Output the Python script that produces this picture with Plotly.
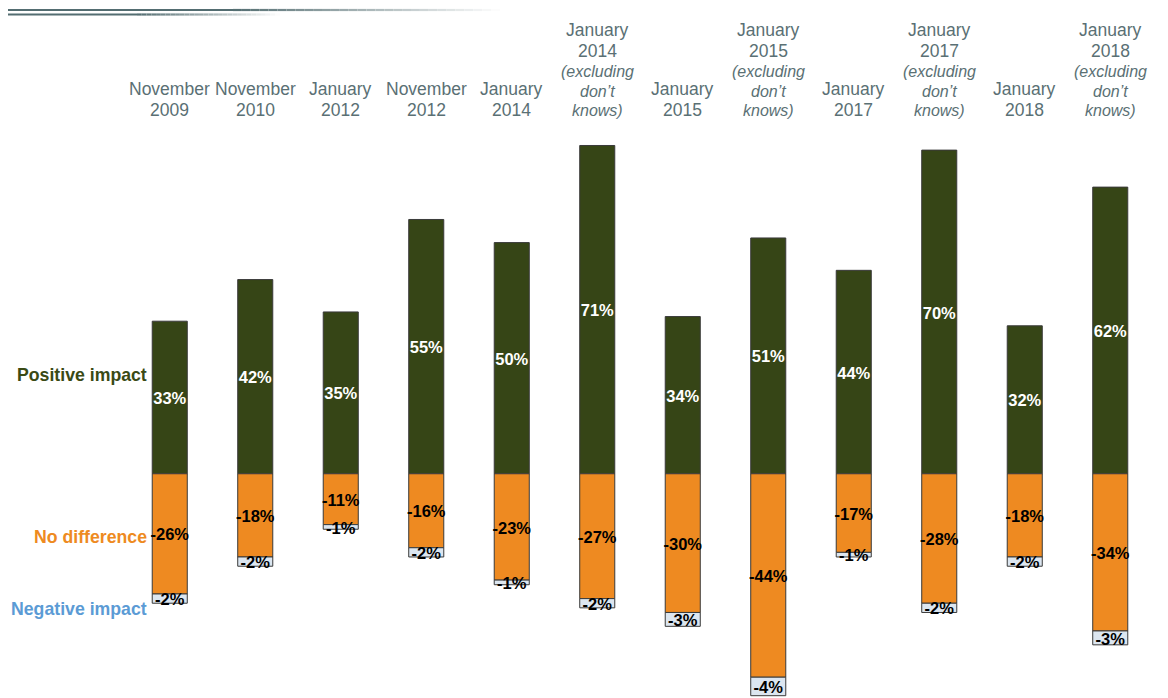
import plotly.graph_objects as go

# ---- data ----
periods = [
    ("November", "2009", False), ("November", "2010", False), ("January", "2012", False),
    ("November", "2012", False), ("January", "2014", False), ("January", "2014", True),
    ("January", "2015", False), ("January", "2015", True), ("January", "2017", False),
    ("January", "2017", True), ("January", "2018", False), ("January", "2018", True),
]
positive = [33, 42, 35, 55, 50, 71, 34, 51, 44, 70, 32, 62]
no_difference = [-26, -18, -11, -16, -23, -27, -30, -44, -17, -28, -18, -34]
negative = [-2, -2, -1, -2, -1, -2, -3, -4, -1, -2, -2, -3]

GREEN = "#364516"
ORANGE = "#EE8A21"
LIGHT = "#DCE6F0"
LABEL_GREY = "#5A7074"
FONT = "Arial, Liberation Sans, sans-serif"

OFF = 8  # page body margin
W, H = 1168 - OFF, 698 - OFF
ML, MR, MT, MB = 127 - OFF, 15, 127 - OFF, 0
PW = W - ML - MR
PH = H - MT - MB
YMIN, YMAX = -48.5, 75
PX_PER_UNIT = PH / (YMAX - YMIN)
LABEL_NUDGE = 2.5 / PX_PER_UNIT  # move value labels down by ~2.5px
x = list(range(len(periods)))

fig = go.Figure()
line = dict(color="#3a3a3a", width=1)
fig.add_trace(go.Bar(x=x, y=positive, marker=dict(color=GREEN, line=line), width=0.41, name="Positive impact"))
fig.add_trace(go.Bar(x=x, y=no_difference, marker=dict(color=ORANGE, line=line), width=0.41, name="No difference"))
fig.add_trace(go.Bar(x=x, y=negative, marker=dict(color=LIGHT, line=line), width=0.41, name="Negative impact"))

# value labels at segment centres
pos_mid = [v / 2 - LABEL_NUDGE for v in positive]
nd_mid = [v / 2 - LABEL_NUDGE for v in no_difference]
neg_mid = [d + n / 2 - LABEL_NUDGE for d, n in zip(no_difference, negative)]
for ys, vals, col in [(pos_mid, positive, "white"), (nd_mid, no_difference, "black"), (neg_mid, negative, "black")]:
    fig.add_trace(go.Scatter(x=x, y=ys, mode="text", text=[f"{v}%" for v in vals],
                             textfont=dict(family=FONT, size=16.5, color=col, weight="bold"),
                             cliponaxis=False, hoverinfo="skip"))

# convert screenshot pixels to paper coords
def px_x(p):
    return (p - OFF - ML) / PW

def px_y(p):
    return 1 + (MT - (p - OFF)) / PH

annotations = []
# category headers
for i, (m, yr, excl) in enumerate(periods):
    if excl:
        lines = [(m, 29.5, False), (yr, 51, False), ("(excluding", 72, True), ("don’t", 91, True), ("knows)", 111, True)]
    else:
        lines = [(m, 89, False), (yr, 110, False)]
    for txt, yc, it in lines:
        annotations.append(dict(
            x=i, xref="x", y=px_y(yc), yref="paper", yanchor="middle", xanchor="center",
            showarrow=False, text=txt,
            font=dict(family=FONT, size=16 if it else 17.5, color=LABEL_GREY, style="italic" if it else "normal"),
        ))

# left legend labels
for txt, yc, col in [("Positive impact", 375, "#3A4A14"), ("No difference", 537, ORANGE), ("Negative impact", 609, "#5B9BD5")]:
    annotations.append(dict(
        x=px_x(149), xref="paper", xanchor="right", y=px_y(yc), yref="paper", yanchor="middle",
        showarrow=False, text=f"<b>{txt}</b>",
        font=dict(family=FONT, size=17.7, color=col),
    ))

# decorative gradient lines top-left
shapes = []
def grad_line(y_px, x0, xs, x1, width):
    yy = px_y(y_px)
    shapes.append(dict(type="line", xref="paper", yref="paper", x0=px_x(x0), x1=px_x(xs),
                       y0=yy, y1=yy, line=dict(color="#536D71", width=width)))
    n = 30
    for k in range(n):
        a0 = xs + (x1 - xs) * k / n
        a1 = xs + (x1 - xs) * (k + 1) / n
        t = (k + 0.5) / n
        r = int(0x53 + (255 - 0x53) * t)
        g = int(0x6D + (255 - 0x6D) * t)
        b = int(0x71 + (255 - 0x71) * t)
        shapes.append(dict(type="line", xref="paper", yref="paper", x0=px_x(a0), x1=px_x(a1),
                           y0=yy, y1=yy, line=dict(color=f"rgb({r},{g},{b})", width=width)))

grad_line(10, 5, 233, 500, 2.2)
grad_line(14.5, 5, 137, 280, 2.2)

fig.update_layout(
    width=W, height=H, margin=dict(l=ML, r=MR, t=MT, b=MB),
    barmode="relative", showlegend=False,
    plot_bgcolor="white", paper_bgcolor="white",
    xaxis=dict(range=[-0.5, 11.5], visible=False, fixedrange=True),
    yaxis=dict(range=[YMIN, YMAX], visible=False, fixedrange=True),
    annotations=annotations, shapes=shapes,
)

fig.write_html("out.html")
